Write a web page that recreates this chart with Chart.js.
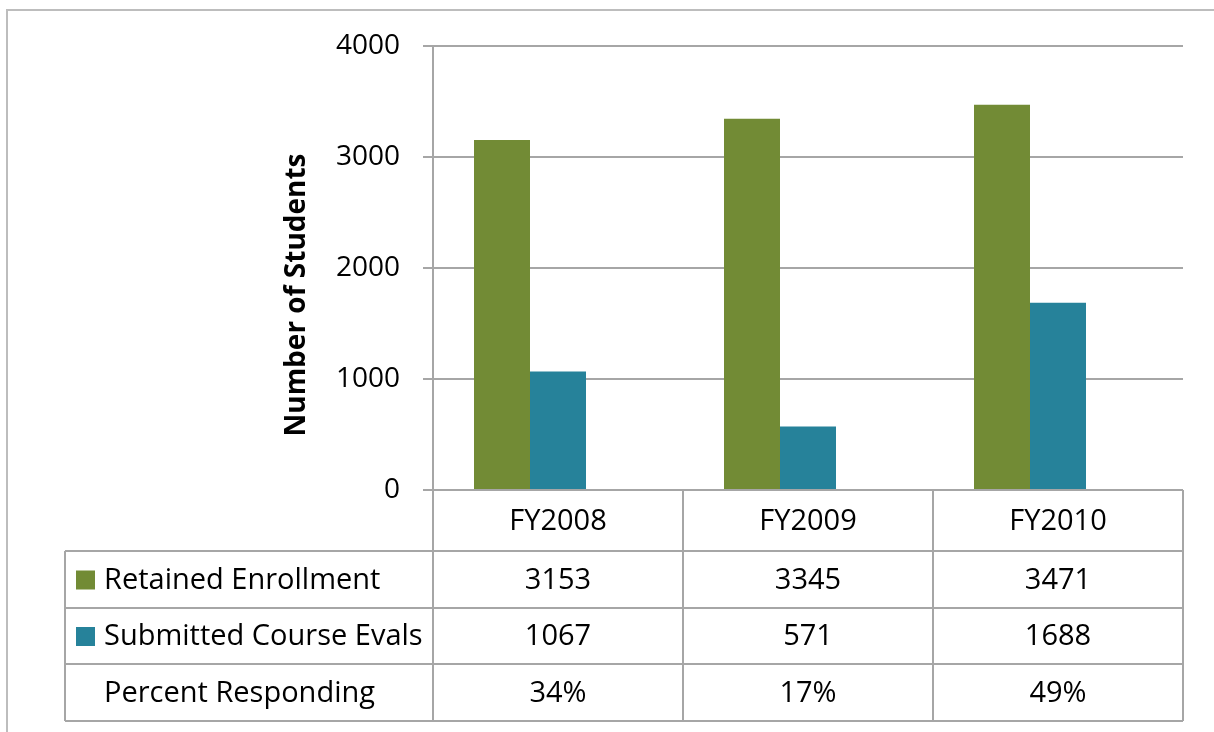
<!DOCTYPE html>
<html>
<head>
<meta charset="utf-8">
<script src="https://cdn.jsdelivr.net/npm/chart.js@4/dist/chart.umd.min.js"></script>
<style>
  html, body { margin: 0; padding: 0; background: #fff; }
  #wrap { width: 1214px; height: 732px; position: relative; }
</style>
</head>
<body>
<div id="wrap"><canvas id="chart"></canvas></div>
<script>
// chart data
const years = ["FY2008", "FY2009", "FY2010"];
const retained = [3153, 3345, 3471];
const submitted = [1067, 571, 1688];
const percentResponding = ["34%", "17%", "49%"];
const rowNames = ["Retained Enrollment", "Submitted Course Evals", "Percent Responding"];
const yTitle = "Number of Students";

const green = "#728b35";
const blue = "#26829a";
const lineGray = "#a6a6a6";
const fontFamily = "'Open Sans', sans-serif";

// outer frame and axis title
const framePlugin = {
  id: "frame",
  beforeDraw: (chart) => {
    const ctx = chart.ctx;
    ctx.save();
    ctx.strokeStyle = "#bdbdbd";
    ctx.lineWidth = 2;
    ctx.beginPath();
    ctx.moveTo(7, chart.height);
    ctx.lineTo(7, 10);
    ctx.lineTo(chart.width, 10);
    ctx.stroke();

    ctx.translate(297, 295);
    ctx.rotate(-Math.PI / 2);
    ctx.fillStyle = "#000";
    ctx.font = "bold 28px " + fontFamily;
    ctx.textAlign = "center";
    ctx.textBaseline = "middle";
    ctx.fillText(yTitle, 0, 0);
    ctx.restore();
  },
};

// data table under the plot, columns follow the x scale
const tablePlugin = {
  id: "dataTable",
  afterDraw: (chart) => {
    const ctx = chart.ctx;
    const x = chart.scales.x;
    const area = chart.chartArea;
    const top = chart.scales.y.getPixelForValue(0);
    const rows = [top, top + 61, top + 118, top + 174, top + 231];
    const labelLeft = 65;
    const half = (area.right - area.left) / years.length / 2;

    ctx.save();
    ctx.strokeStyle = lineGray;
    ctx.lineWidth = 2;
    ctx.beginPath();
    // horizontal lines
    ctx.moveTo(area.left, rows[0]);
    ctx.lineTo(area.right, rows[0]);
    for (let r = 1; r < rows.length; r++) {
      ctx.moveTo(labelLeft, rows[r]);
      ctx.lineTo(area.right, rows[r]);
    }
    // vertical lines
    ctx.moveTo(labelLeft, rows[1]);
    ctx.lineTo(labelLeft, rows[4]);
    ctx.moveTo(area.left, rows[0]);
    ctx.lineTo(area.left, rows[4]);
    years.forEach((y, i) => {
      const cx = x.getPixelForValue(i);
      ctx.moveTo(cx + half, rows[0]);
      ctx.lineTo(cx + half, rows[4]);
    });
    ctx.stroke();

    ctx.fillStyle = "#000";
    ctx.font = "29px " + fontFamily;
    ctx.textBaseline = "middle";
    ctx.textAlign = "center";
    const values = [retained, submitted, percentResponding];
    years.forEach((y, i) => {
      const cx = x.getPixelForValue(i);
      ctx.fillText(y, cx, (rows[0] + rows[1]) / 2 + 1);
      values.forEach((arr, r) => {
        ctx.fillText(String(arr[i]), cx, (rows[r + 1] + rows[r + 2]) / 2 + 1);
      });
    });

    // row labels with legend keys
    ctx.textAlign = "left";
    const keys = [green, blue, null];
    rowNames.forEach((name, r) => {
      const cy = (rows[r + 1] + rows[r + 2]) / 2;
      if (keys[r]) {
        ctx.fillStyle = keys[r];
        ctx.fillRect(76, cy - 9, 19, 19);
      }
      ctx.fillStyle = "#000";
      ctx.fillText(name, 104, cy + 1);
    });
    ctx.restore();
  },
};

const ctx = document.getElementById("chart").getContext("2d");
new Chart(ctx, {
  type: "bar",
  data: {
    labels: years,
    datasets: [
      { label: "Retained Enrollment", data: retained, backgroundColor: green },
      { label: "Submitted Course Evals", data: submitted, backgroundColor: blue },
      // empty slot so the pair sits left of the column centre, like the original
      { label: "", data: [null, null, null], backgroundColor: "rgba(0,0,0,0)" },
    ],
  },
  options: {
    responsive: true,
    maintainAspectRatio: false,
    animation: false,
    layout: { padding: { left: 280, top: 46, right: 31, bottom: 242 } },
    datasets: { bar: { barPercentage: 1, categoryPercentage: 0.672 } },
    plugins: { legend: { display: false }, tooltip: { enabled: false } },
    scales: {
      x: { display: false },
      y: {
        min: 0,
        max: 4000,
        ticks: {
          stepSize: 1000,
          padding: 23,
          color: "#000",
          font: { family: fontFamily, size: 28 },
          callback: (v) => String(v),
        },
        grid: { color: lineGray, lineWidth: 2, tickLength: 10 },
        border: { display: true, color: lineGray, width: 2 },
        afterFit: (scale) => {
          scale.width = 153;
        },
      },
    },
  },
  plugins: [framePlugin, tablePlugin],
});
</script>
</body>
</html>
